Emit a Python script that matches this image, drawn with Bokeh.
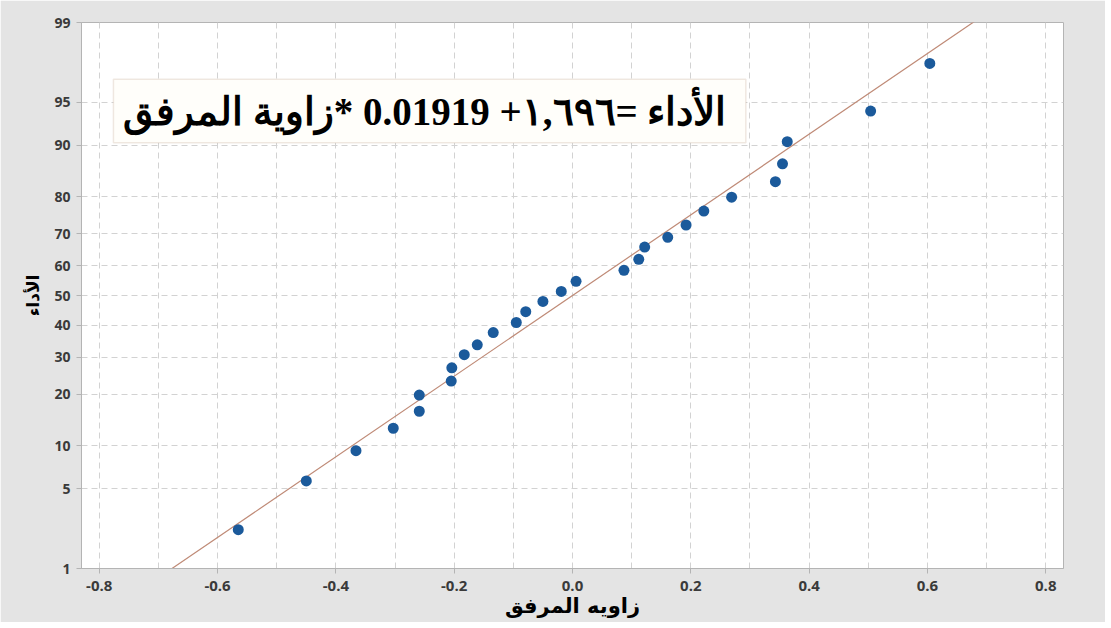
from statistics import NormalDist

from bokeh.plotting import figure
from bokeh.models import FixedTicker, BoxAnnotation, Label, Range1d
from bokeh.embed import file_html
from bokeh.resources import INLINE

# ---------------- data ----------------
elbow_angle = [-0.565, -0.450, -0.366, -0.303, -0.259, -0.259, -0.205, -0.204,
               -0.183, -0.161, -0.134, -0.095, -0.079, -0.050, -0.019, 0.006,
               0.087, 0.112, 0.122, 0.161, 0.192, 0.222, 0.269, 0.343,
               0.355, 0.363, 0.504, 0.604]
percent = [2.3, 5.7, 9.3, 12.9, 16.2, 19.8, 23.3, 26.9,
           30.7, 33.7, 37.6, 40.9, 44.5, 48.0, 51.4, 54.8,
           58.5, 62.1, 66.0, 69.0, 72.6, 76.4, 79.9, 83.4,
           86.9, 90.5, 94.2, 97.6]
y_tick_pct = [1, 5, 10, 20, 30, 40, 50, 60, 70, 80, 90, 95, 99]
x_ticks = [-0.8, -0.6, -0.4, -0.2, 0.0, 0.2, 0.4, 0.6, 0.8]
x_grid = [-0.8, -0.7, -0.6, -0.5, -0.4, -0.3, -0.2, -0.1, 0.0,
          0.1, 0.2, 0.3, 0.4, 0.5, 0.6, 0.7, 0.8]
fit_mean = 0.0
fit_sd = 0.291
x_limits = [-0.83, 0.83]

equation = "الأداء  =١,٦٩٦+ 0.01919 *زاوية المرفق"
x_label = "زاويه المرفق"
y_label = "الأداء"

# ---------------- transforms ----------------
nd = NormalDist()
z_points = [nd.inv_cdf(p / 100.0) for p in percent]
z_ticks = [nd.inv_cdf(p / 100.0) for p in y_tick_pct]
z_lo, z_hi = z_ticks[0], z_ticks[-1]

p = figure(width=1105, height=622, output_backend="svg", toolbar_location=None,
           x_range=Range1d(*x_limits), y_range=Range1d(z_lo, z_hi),
           min_border_left=81, min_border_right=42, min_border_top=22,
           min_border_bottom=54)

p.background_fill_color = "white"
p.border_fill_color = "#e4e4e4"
p.outline_line_color = "#b4b4b4"
p.outline_line_width = 1

# grids
p.xgrid.ticker = FixedTicker(ticks=x_grid)
p.ygrid.ticker = FixedTicker(ticks=z_ticks)
for g in (p.xgrid, p.ygrid):
    g.grid_line_color = "#d2d2d2"
    g.grid_line_dash = "6 4"
    g.grid_line_width = 1

# axes
p.xaxis.ticker = FixedTicker(ticks=x_ticks)
p.yaxis.ticker = FixedTicker(ticks=z_ticks)
p.yaxis.major_label_overrides = {zt: str(pc) for zt, pc in zip(z_ticks, y_tick_pct)}
p.xaxis.major_label_overrides = {xt: f"{xt:.1f}" for xt in x_ticks}

for ax in (p.xaxis, p.yaxis):
    ax.axis_line_color = "#b4b4b4"
    ax.major_tick_line_color = "#b4b4b4"
    ax.minor_tick_line_color = None
    ax.major_tick_in = 0
    ax.major_tick_out = 5
    ax.major_label_text_font = "Open Sans"
    ax.major_label_text_color = "#3a3a3a"
    ax.major_label_text_font_style = "bold"
    ax.axis_label_text_color = "black"
    ax.axis_label_text_font_style = "bold"

p.yaxis.major_label_text_font_size = "14px"
p.xaxis.major_label_text_font_size = "15px"
p.yaxis.major_label_standoff = 6
p.xaxis.major_label_standoff = 7
p.xaxis.axis_label = x_label
p.yaxis.axis_label = y_label
p.xaxis.axis_label_text_font = "DejaVu Sans"
p.yaxis.axis_label_text_font = "DejaVu Sans"
p.xaxis.axis_label_text_font_size = "21px"
p.yaxis.axis_label_text_font_size = "17px"
p.xaxis.axis_label_standoff = 0
p.yaxis.axis_label_standoff = 8

# fitted line
line_z = [-3.5, 3.5]
line_x = [fit_mean + fit_sd * zz for zz in line_z]
p.line(line_x, line_z, line_color="#bf8a76", line_width=1.2)

# points
p.scatter(elbow_angle, z_points, size=11, fill_color="#1b5a9b",
          line_color="#1b5a9b", line_width=0)

# equation box
box_left, box_right = -0.776, 0.293
box_top, box_bottom = 1.842, 1.302
p.add_layout(BoxAnnotation(left=box_left, right=box_right, top=box_top,
                           bottom=box_bottom, fill_color="#fffefa", fill_alpha=1.0,
                           line_color="#c9b39f", line_width=1.5))
p.add_layout(Label(x=(box_left + box_right) / 2, y=(box_top + box_bottom) / 2,
                   text=equation, text_align="center", text_baseline="middle",
                   text_font="Liberation Serif", text_font_style="bold",
                   text_font_size="39px", text_color="black"))

open("out.html", "w").write(file_html(p, INLINE))
